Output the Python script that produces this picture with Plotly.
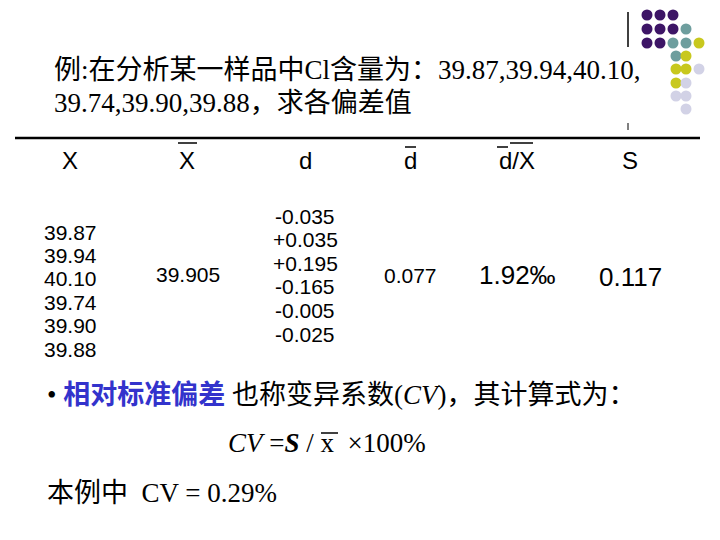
import plotly.graph_objects as go

x_vals = ["39.87", "39.94", "40.10", "39.74", "39.90", "39.88"]
d_vals = ["-0.035", "+0.035", "+0.195", "-0.165", "-0.005", "-0.025"]
x_mean = "39.905"
d_mean = "0.077"
rel_dev = "1.92‰"
s_val = "0.117"
headers = ["X", "X", "d", "d", "d/X", "S"]

fig = go.Figure()
ann = []
SANS = "Liberation Sans"
SER = "Liberation Serif, Noto Sans CJK SC"

def t(x, y, s, size, font=SANS, color="black", xa="center"):
    ann.append(dict(x=x, y=y, text=s, showarrow=False, xanchor=xa, yanchor="middle",
                    font=dict(family=font, size=size, color=color)))

t(52, 70, "例:在分析某一样品中Cl含量为：39.87,39.94,40.10,", 27, SER, xa="left")
t(52, 103, "39.74,39.90,39.88，求各偏差值", 27, SER, xa="left")

hx = [70, 187, 305, 410, 517, 630]
for xx, h in zip(hx, headers):
    t(xx, 160, h, 24)
for i, v in enumerate(x_vals):
    t(70, 232 + i * 23.4, v, 21)
for i, v in enumerate(d_vals):
    t(305, 216 + i * 23.6, v, 21)
t(188, 274, x_mean, 21)
t(410, 275, d_mean, 21)
t(517, 275, rel_dev, 26)
t(630, 277, s_val, 26)

t(45, 395, "• <b><span style='color:#3333cc'>相对标准偏差</span></b> 也称变异系数(<i>CV</i>)，其计算式为：", 27, SER, xa="left")
t(226, 443, "<i>CV</i> =<b><i>S</i></b> / x  ×100%", 27, SER, xa="left")
t(45, 493, "本例中  CV = 0.29%", 27, SER, xa="left")

shapes = []
def line(x0, y0, x1, y1, w=1.5):
    shapes.append(dict(type="line", x0=x0, y0=y0, x1=x1, y1=y1, line=dict(color="black", width=w)))

line(15, 138, 700, 138, 2.5)
line(628, 12, 628, 47, 1.5)
line(628, 123, 628, 130, 1)
line(178, 143, 197, 143)
line(405, 147, 416, 147)
line(497, 147, 508, 147)
line(510, 143, 533, 143)
line(321, 433, 338, 433)

P, T, Y, L = "#3d1566", "#6e9e9e", "#c8c81e", "#d2d2e6"
cols = [647, 660, 673, 686, 699]
rows = [15, 29, 43, 56, 69, 83, 96, 109]
dots = [(0, 0, P), (0, 1, P), (0, 2, P),
        (1, 0, P), (1, 1, P), (1, 2, P), (1, 3, T),
        (2, 0, P), (2, 1, P), (2, 2, T), (2, 3, T), (2, 4, Y),
        (3, 2, T), (3, 3, Y), (4, 2, Y), (4, 3, Y), (4, 4, L),
        (5, 2, Y), (5, 3, L), (6, 2, L), (6, 3, L), (7, 3, L)]
for r, c, col in dots:
    cx, cy = cols[c], rows[r]
    if c == 2 and r >= 3:
        cx = 676
    shapes.append(dict(type="circle", x0=cx - 5.5, x1=cx + 5.5, y0=cy - 5.5, y1=cy + 5.5,
                       fillcolor=col, line=dict(width=0), layer="below"))

fig.update_layout(width=720, height=540, margin=dict(l=0, r=0, t=0, b=0),
                  plot_bgcolor="white", paper_bgcolor="white",
                  xaxis=dict(range=[8, 728], visible=False, fixedrange=True),
                  yaxis=dict(range=[548, 8], visible=False, fixedrange=True),
                  annotations=ann, shapes=shapes, showlegend=False)
fig.write_html("out.html")
